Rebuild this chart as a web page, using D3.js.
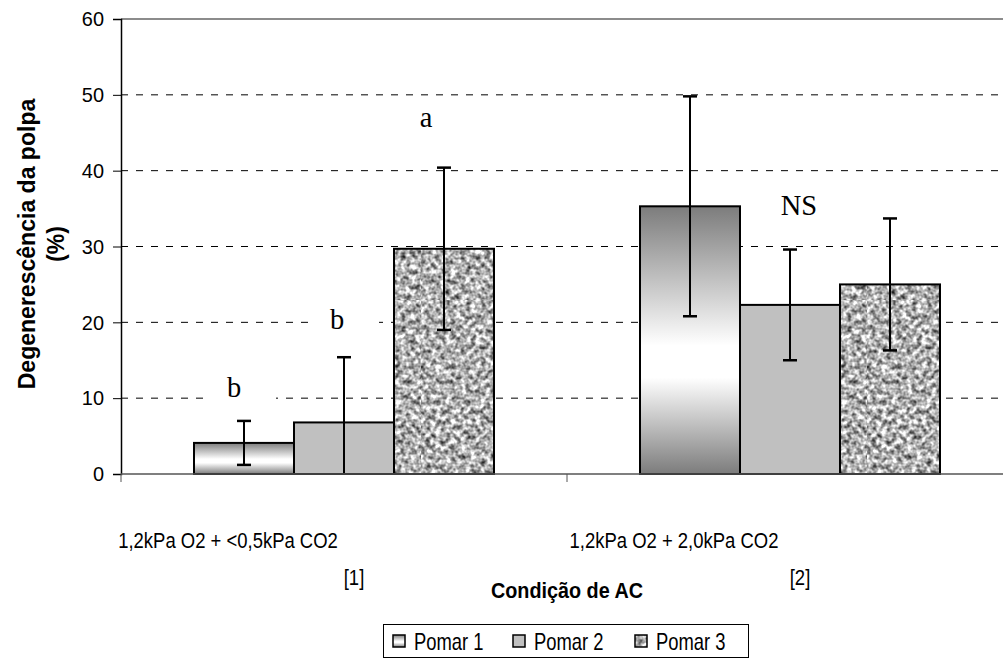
<!DOCTYPE html>
<html>
<head>
<meta charset="utf-8">
<script src="https://cdn.jsdelivr.net/npm/d3@7"></script>
<style>
  html, body { margin: 0; padding: 0; background: #fff; }
  svg { display: block; font-family: Arial, 'Liberation Sans', sans-serif; }
</style>
</head>
<body>
<svg id="chart" width="1003" height="663"></svg>
<script>
// ##### Data
var categories = ['1,2kPa O2 + <0,5kPa CO2', '1,2kPa O2 + 2,0kPa CO2'];
var categoryTags = ['[1]', '[2]'];
var seriesNames = ['Pomar 1', 'Pomar 2', 'Pomar 3'];

// mean value of each series, one entry per category
var pomar1 = [4.1, 35.3];
var pomar2 = [6.8, 22.3];
var pomar3 = [29.7, 25.0];

// half length of the error bars
var pomar1Err = [2.9, 14.5];
var pomar2Err = [8.6, 7.3];
var pomar3Err = [10.7, 8.7];

// letters of the statistic test, placed over one bar each
var letterTexts = ['b', 'b', 'a', 'NS'];
var letterCategory = [0, 0, 0, 1];
var letterSeries = [0, 1, 2, 1];
var letterLevel = [10.1, 19.1, 45.8, 34.2];

var yTicks = [0, 10, 20, 30, 40, 50, 60];

// ##### Setup
var svg = d3.select('#chart');
var squish = 0.87;   // the original picture is a bit narrower than tall

// NOTE 'top' is taken by window.top, hence the plot prefix
var plotLeft = 121, plotRight = 1013, plotTop = 19, plotBottom = 474;

var x0 = d3.scaleBand().domain(d3.range(categories.length)).range([plotLeft, plotRight]);
var x1 = d3.scaleBand().domain(d3.range(seriesNames.length))
  .range([0, x0.bandwidth()]).paddingInner(0).paddingOuter(0.73);
var y = d3.scaleLinear().domain([0, 60]).range([plotBottom, plotTop]);

var values = [pomar1, pomar2, pomar3];
var errors = [pomar1Err, pomar2Err, pomar3Err];

// ##### Fills: gradient, flat grey and a granite like noise
var defs = svg.append('defs');

var grad = defs.append('linearGradient').attr('id', 'shade')
  .attr('x1', 0).attr('y1', 0).attr('x2', 0).attr('y2', 1);
grad.append('stop').attr('offset', '0%').attr('stop-color', '#7c7c7c');
grad.append('stop').attr('offset', '52%').attr('stop-color', '#ffffff');
grad.append('stop').attr('offset', '64%').attr('stop-color', '#ffffff');
grad.append('stop').attr('offset', '100%').attr('stop-color', '#7c7c7c');

var noise = defs.append('filter').attr('id', 'noise')
  .attr('x', 0).attr('y', 0).attr('width', 1).attr('height', 1)
  .attr('color-interpolation-filters', 'sRGB');
noise.append('feTurbulence').attr('type', 'fractalNoise')
  .attr('baseFrequency', 0.2).attr('numOctaves', 2).attr('seed', 7);
noise.append('feColorMatrix').attr('type', 'matrix')
  .attr('values', '1.5 0 0 0 -0.06  1.5 0 0 0 -0.06  1.5 0 0 0 -0.06  0 0 0 0 1');

var pat = defs.append('pattern').attr('id', 'granite')
  .attr('patternUnits', 'userSpaceOnUse').attr('width', 300).attr('height', 300);
pat.append('rect').attr('width', 300).attr('height', 300).attr('filter', 'url(#noise)');

var fills = ['url(#shade)', '#c0c0c0', 'url(#granite)'];

// ##### Grid and frame
svg.append('g').selectAll('line')
  .data(yTicks.filter(function(t) { return t > 0 && t < 60; }))
  .enter().append('line')
  .attr('x1', plotLeft).attr('x2', 1003)
  .attr('y1', function(d) { return y(d); })
  .attr('y2', function(d) { return y(d); })
  .attr('stroke', '#000').attr('stroke-width', 1)
  .attr('stroke-dasharray', '7,8');

svg.append('line')
  .attr('x1', plotLeft).attr('x2', 1003).attr('y1', y(60)).attr('y2', y(60))
  .attr('stroke', '#8c8c8c').attr('stroke-width', 2);

// ##### Letters with their white boxes (under the bars)
var letterDx = [-10, -7, -18, 9];
var letterLayer = svg.append('g');

// ##### Bars
var groups = svg.append('g').selectAll('g')
  .data(d3.range(categories.length))
  .enter().append('g')
  .attr('transform', function(c) { return 'translate(' + x0(c) + ',0)'; });

function cells(c) {
  return d3.range(seriesNames.length).map(function(s) { return {c: c, s: s}; });
}

groups.selectAll('rect')
  .data(cells)
  .enter().append('rect')
  .attr('x', function(d) { return x1(d.s); })
  .attr('y', function(d) { return y(values[d.s][d.c]); })
  .attr('width', x1.bandwidth())
  .attr('height', function(d) { return plotBottom - y(values[d.s][d.c]); })
  .attr('fill', function(d) { return fills[d.s]; })
  .attr('stroke', '#000').attr('stroke-width', 2);

// error bars, cut at the axis
var errs = groups.selectAll('g.err')
  .data(cells)
  .enter().append('g').attr('class', 'err')
  .attr('transform', function(d) { return 'translate(' + (x1(d.s) + x1.bandwidth() / 2) + ',0)'; });

function errTop(d) { return y(values[d.s][d.c] + errors[d.s][d.c]); }
function errLow(d) { return y(Math.max(0, values[d.s][d.c] - errors[d.s][d.c])); }

errs.append('line').attr('y1', errTop).attr('y2', errLow)
  .attr('stroke', '#000').attr('stroke-width', 2);
errs.append('line').attr('x1', -7).attr('x2', 7).attr('y1', errTop).attr('y2', errTop)
  .attr('stroke', '#000').attr('stroke-width', 2.5);
errs.filter(function(d) { return values[d.s][d.c] - errors[d.s][d.c] > 0; })
  .append('line').attr('x1', -7).attr('x2', 7).attr('y1', errLow).attr('y2', errLow)
  .attr('stroke', '#000').attr('stroke-width', 2.5);

// ##### Axes
var yAxis = svg.append('g').attr('transform', 'translate(' + plotLeft + ',0)')
  .call(d3.axisLeft(y).tickValues(yTicks).tickSize(8).tickPadding(9));
yAxis.select('.domain').attr('stroke', '#000').attr('stroke-width', 1.5);
yAxis.selectAll('.tick line').attr('stroke', '#000');
yAxis.selectAll('.tick text')
  .attr('font-size', 21).attr('font-family', 'Arial, Liberation Sans').attr('fill', '#000')
  .attr('transform', 'scale(0.95,1)')
  .attr('x', -17 / 0.95);

var xAxis = svg.append('g').attr('transform', 'translate(0,' + plotBottom + ')');
xAxis.append('line').attr('x1', plotLeft).attr('x2', 1003)
  .attr('stroke', '#555').attr('stroke-width', 1.5);
xAxis.selectAll('line.tk')
  .data(d3.range(categories.length + 1))
  .enter().append('line').attr('class', 'tk')
  .attr('x1', function(i) { return plotLeft + i * x0.step(); })
  .attr('x2', function(i) { return plotLeft + i * x0.step(); })
  .attr('y1', 0).attr('y2', 8).attr('stroke', '#555');

// helper for the narrow looking text
function addText(g, tx, ty, txt, opts) {
  var sx = opts.squish || squish;
  var t = g.append('text')
    .attr('transform', 'translate(' + tx + ',' + ty + ') scale(' + sx + ',1)')
    .attr('text-anchor', opts.anchor || 'middle')
    .attr('font-size', opts.size || 21)
    .attr('font-weight', opts.weight || 'normal')
    .attr('font-family', opts.family || 'Arial, Liberation Sans')
    .text(txt);
  return t;
}

letterTexts.forEach(function(txt, i) {
  var bx = x0(letterCategory[i]) + x1(letterSeries[i]) + x1.bandwidth() / 2 + letterDx[i];
  var by = y(letterLevel[i]);
  if (txt !== 'NS') {
    letterLayer.append('rect').attr('x', bx - 28).attr('y', by - 30).attr('width', 70).attr('height', 40)
      .attr('fill', '#fff');
  }
  addText(letterLayer, bx, by, txt, {size: 30, squish: 0.95, family: 'Times New Roman, Liberation Serif, serif'});
});

categories.forEach(function(cat, i) {
  var cx = x0(i) + x0.bandwidth() / 2;
  addText(svg, cx - 116, 548, cat, {size: 22, squish: 0.84});
  addText(svg, cx + 10, 585, categoryTags[i], {size: 22, squish: 0.84});
});

addText(svg, (plotLeft + plotRight) / 2, 598, 'Condição de AC', {weight: 'bold', size: 22, squish: 0.9});

// rotated y title
var yTitle = svg.append('g').attr('transform', 'translate(0,244) scale(1,0.96)');
yTitle.append('text').attr('transform', 'translate(35,0) rotate(-90)')
  .attr('text-anchor', 'middle').attr('font-size', 24).attr('font-weight', 'bold')
  .text('Degenerescência da polpa');
yTitle.append('text').attr('transform', 'translate(64,0) rotate(-90)')
  .attr('text-anchor', 'middle').attr('font-size', 24).attr('font-weight', 'bold')
  .text('(%)');

// ##### Legend
var legend = svg.append('g').attr('transform', 'translate(383,624)');
legend.append('rect').attr('x', 0.5).attr('y', 0.5).attr('width', 365).attr('height', 33)
  .attr('fill', '#fff').attr('stroke', '#000');
var legX = [10, 130, 252];
seriesNames.forEach(function(name, i) {
  legend.append('rect').attr('x', legX[i]).attr('y', 11).attr('width', 12).attr('height', 12)
    .attr('fill', fills[i]).attr('stroke', '#000').attr('stroke-width', 1.5);
  addText(legend, legX[i] + 21, 26, name, {anchor: 'start', size: 23, squish: 0.8});
});
</script>
</body>
</html>
